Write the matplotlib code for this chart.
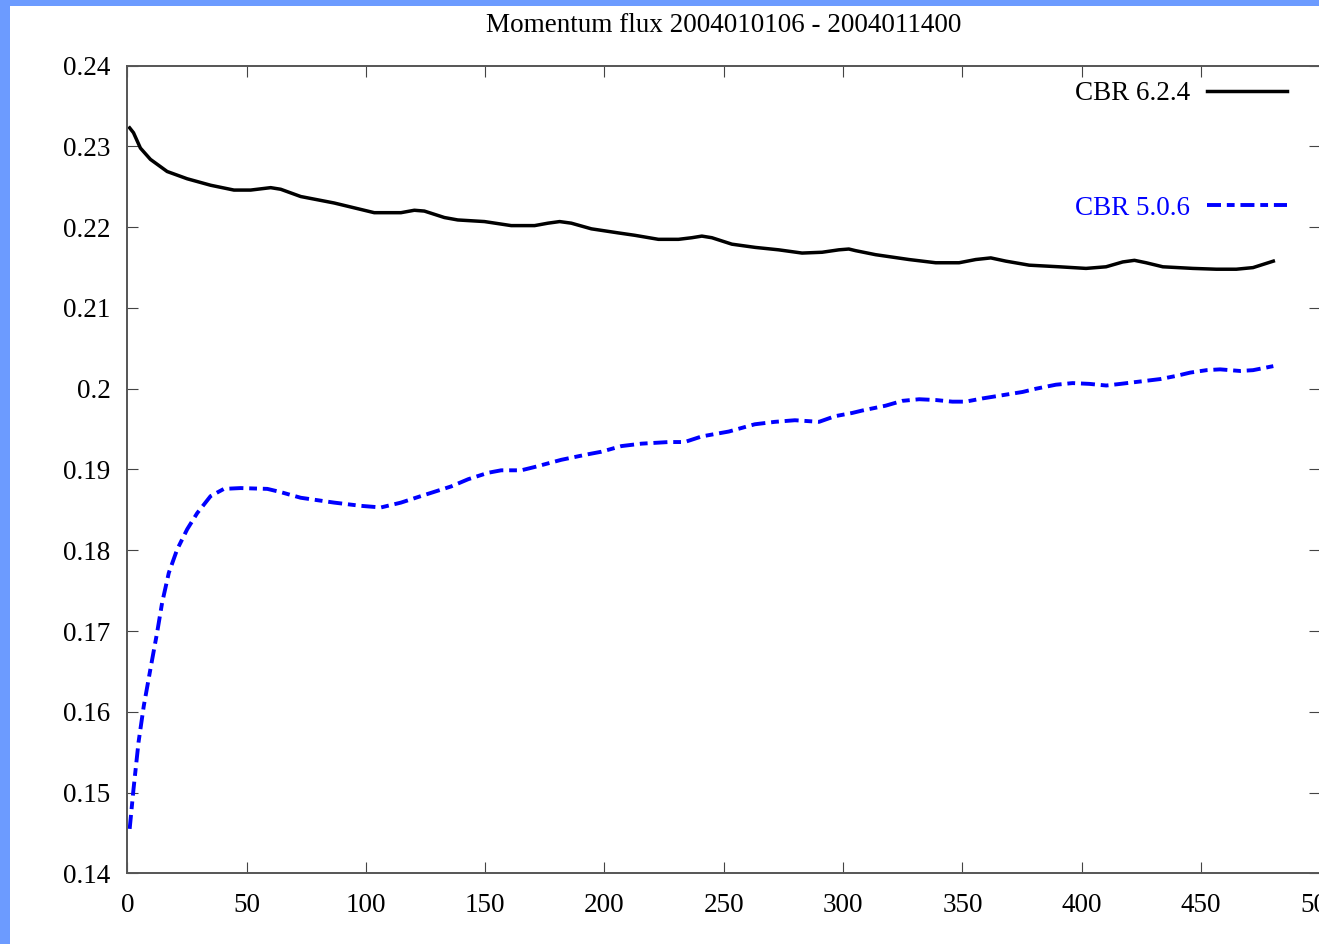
import numpy as np
import matplotlib
matplotlib.use('Agg')
import matplotlib.pyplot as plt
from matplotlib.patches import Rectangle
from matplotlib.ticker import FormatStrFormatter

# hourly momentum flux, two model versions
hours_624 = [1.0, 2.6, 5.5, 9.7, 16.7, 25.1, 34.9, 44.7, 51.7, 60.1, 64.3, 72.7, 86.7, 95.1,
             103.5, 114.7, 120.3, 124.5, 132.9, 138.5, 149.7, 160.9, 170.7, 176.3, 181.2,
             186.1, 194.5, 205.7, 212.7, 222.6, 231.0, 236.6, 240.8, 245.0, 253.4, 263.2,
             273.0, 282.8, 291.2, 298.2, 302.4, 305.2, 313.6, 327.6, 338.8, 348.6, 355.6,
             361.9, 368.2, 378.0, 390.6, 401.8, 410.2, 417.2, 422.1, 427.0, 434.0, 446.6,
             456.4, 464.8, 471.8, 480.3]
flux_624 = [0.2323, 0.2317, 0.2298, 0.2284, 0.2269, 0.2260, 0.2252, 0.2246, 0.2246, 0.2249,
            0.2247, 0.2238, 0.2230, 0.2224, 0.2218, 0.2218, 0.2221, 0.2220, 0.2212, 0.2209,
            0.2207, 0.2202, 0.2202, 0.2205, 0.2207, 0.2205, 0.2198, 0.2193, 0.2190, 0.2185,
            0.2185, 0.2187, 0.2189, 0.2187, 0.2179, 0.2175, 0.2172, 0.2168, 0.2169, 0.2172,
            0.2173, 0.2171, 0.2166, 0.2160, 0.2156, 0.2156, 0.2160, 0.2162, 0.2158, 0.2153,
            0.2151, 0.2149, 0.2151, 0.2157, 0.2159, 0.2156, 0.2151, 0.2149, 0.2148, 0.2148,
            0.2150, 0.2158]

hours_506 = [1.0, 2.6, 4.7, 6.9, 9.7, 12.5, 14.6, 17.4, 20.9, 25.1, 29.3, 34.9, 40.5, 47.5,
             58.7, 64.3, 72.7, 86.7, 97.9, 106.3, 114.7, 123.0, 135.7, 142.9, 151.3, 156.7,
             165.1, 170.6, 181.9, 193.3, 198.7, 207.1, 215.5, 226.9, 233.6, 240.8, 252.1,
             263.0, 271.4, 279.8, 289.9, 296.6, 303.8, 308.0, 317.8, 324.8, 331.9, 338.9,
             345.8, 351.3, 358.4, 366.8, 375.2, 380.8, 389.2, 396.2, 403.3, 410.3, 416.2,
             424.6, 433.0, 439.8, 445.5, 452.3, 458.0, 466.4, 471.8, 480.3]
flux_506 = [0.1455, 0.1504, 0.1562, 0.1607, 0.1653, 0.1698, 0.1735, 0.1772, 0.1801, 0.1826,
            0.1846, 0.1867, 0.1876, 0.1877, 0.1876, 0.1872, 0.1865, 0.1859, 0.1855, 0.1853,
            0.1859, 0.1867, 0.1879, 0.1888, 0.1896, 0.1899, 0.1899, 0.1903, 0.1912, 0.1919,
            0.1922, 0.1929, 0.1932, 0.1934, 0.1934, 0.1941, 0.1947, 0.1956, 0.1959, 0.1961,
            0.1959, 0.1966, 0.1970, 0.1973, 0.1979, 0.1985, 0.1987, 0.1986, 0.1984, 0.1984,
            0.1988, 0.1992, 0.1996, 0.2000, 0.2005, 0.2007, 0.2006, 0.2004, 0.2006, 0.2009,
            0.2012, 0.2016, 0.2020, 0.2023, 0.2024, 0.2022, 0.2023, 0.2028]

x_ticks = list(range(0, 501, 50))
y_ticks = [0.14, 0.15, 0.16, 0.17, 0.18, 0.19, 0.2, 0.21, 0.22, 0.23, 0.24]

plt.rcParams['font.family'] = ['Liberation Serif', 'DejaVu Serif']
fs = 19.5

fig = plt.figure(figsize=(13.19, 9.44), dpi=100)
fig.patch.set_facecolor('#6c9bff')
# white page inside the blue frame
fig.patches.append(Rectangle((10 / 1319, 0), 1, 1 - 6 / 944, transform=fig.transFigure,
                             facecolor='white', edgecolor='none', zorder=-10))

ax = fig.add_axes([0.0965, 0.0749, 0.9045, 0.8555])
ax.set_zorder(5)
ax.set_facecolor('white')

ax.plot(hours_624, flux_624, color='black', lw=2.5, solid_joinstyle='round',
        label='CBR 6.2.4')
ax.plot(hours_506, flux_506, color='blue', lw=2.8, dash_joinstyle='round',
        linestyle=(0, (3.6, 1.5, 2.0, 1.5)), label='CBR 5.0.6')

ax.set_xlim(0, 500)
ax.set_ylim(0.14, 0.24)
ax.set_xticks(x_ticks)
ax.set_yticks(y_ticks)
ax.yaxis.set_major_formatter(FormatStrFormatter('%g'))
ax.tick_params(direction='in', length=8, width=0.8, color='#444444',
               top=True, right=True, labelsize=fs)
ax.tick_params(axis='y', pad=12)
ax.tick_params(axis='x', pad=14)
for s in ax.spines.values():
    s.set_color('#555555')
    s.set_linewidth(1.4)

ax.set_title('Momentum flux 2004010106 - 2004011400', fontsize=fs, pad=24)

leg = ax.legend(loc='upper right', bbox_to_anchor=(0.972, 0.981), frameon=False,
                markerfirst=False, fontsize=fs, handlelength=2.96, handletextpad=0.63,
                labelspacing=3.31, borderpad=0, borderaxespad=0)
for txt, line in zip(leg.get_texts(), leg.get_lines()):
    txt.set_color(line.get_color())

fig.savefig('out.png', dpi=100, facecolor=fig.get_facecolor())
